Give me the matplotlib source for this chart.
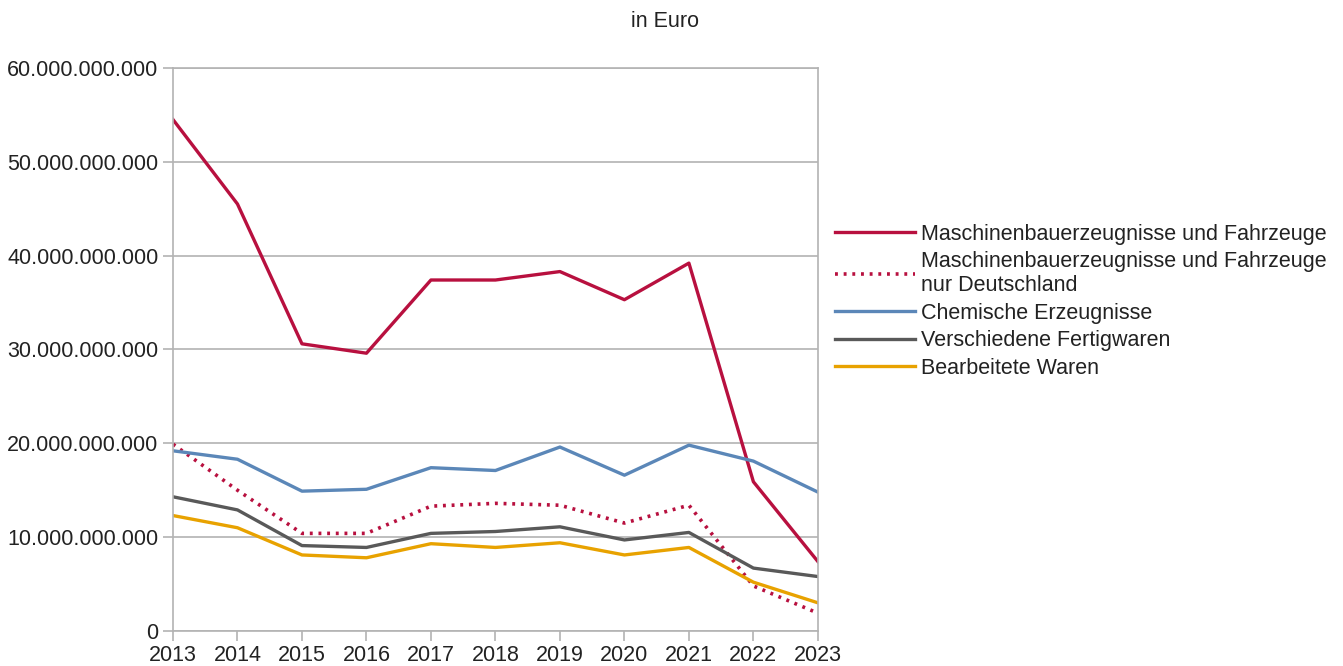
import numpy as np
import matplotlib.pyplot as plt
from matplotlib.ticker import FuncFormatter

plt.rcParams['font.family'] = ['Liberation Sans', 'DejaVu Sans']

years = [2013, 2014, 2015, 2016, 2017, 2018, 2019, 2020, 2021, 2022, 2023]

# values in billion euro
maschinen = [54.5, 45.5, 30.6, 29.6, 37.4, 37.4, 38.3, 35.3, 39.2, 15.9, 7.4]
maschinen_de = [19.9, 15.0, 10.4, 10.4, 13.3, 13.6, 13.4, 11.5, 13.4, 4.8, 1.9]
chemie = [19.2, 18.3, 14.9, 15.1, 17.4, 17.1, 19.6, 16.6, 19.8, 18.1, 14.8]
fertigwaren = [14.3, 12.9, 9.1, 8.9, 10.4, 10.6, 11.1, 9.7, 10.5, 6.7, 5.8]
bearbeitet = [12.3, 11.0, 8.1, 7.8, 9.3, 8.9, 9.4, 8.1, 8.9, 5.2, 3.0]

labels = ["Maschinenbauerzeugnisse und Fahrzeuge",
          "Maschinenbauerzeugnisse und Fahrzeuge\nnur Deutschland",
          "Chemische Erzeugnisse",
          "Verschiedene Fertigwaren",
          "Bearbeitete Waren"]

fs = 15.5

fig = plt.figure(figsize=(13.43, 6.66), dpi=100)
ax = fig.add_axes([0.1288, 0.0526, 0.4802, 0.8454])

b = 1e9
ax.plot(years, np.array(maschinen) * b, color='#b8103f', lw=2.4, label=labels[0])
ax.plot(years, np.array(maschinen_de) * b, color='#b8103f', lw=2.6, ls=(0, (0.8, 1.6)), label=labels[1])
ax.plot(years, np.array(chemie) * b, color='#5b87b8', lw=2.4, label=labels[2])
ax.plot(years, np.array(fertigwaren) * b, color='#595959', lw=2.4, label=labels[3])
ax.plot(years, np.array(bearbeitet) * b, color='#e8a200', lw=2.4, label=labels[4])

ax.set_xlim(2013, 2023)
ax.set_ylim(0, 60e9)
ax.set_xticks(years)
ax.set_yticks(np.arange(0, 61e9, 10e9))
ax.yaxis.set_major_formatter(FuncFormatter(lambda v, p: f"{int(round(v)):,}".replace(",", ".")))
ax.tick_params(labelsize=fs, length=7, width=1.2, colors='#222222')
ax.tick_params(axis='both', which='major', color='#b3b3b3')
ax.tick_params(axis='x', pad=3)
ax.grid(axis='y', color='#b3b3b3', lw=1.2)
for s in ax.spines.values():
    s.set_color('#b3b3b3')
    s.set_linewidth(1.2)

fig.text(0.495, 0.968, "in Euro", ha='center', va='center', fontsize=fs, color='#222222')

fig.legend(loc='upper left', bbox_to_anchor=(0.6155, 0.677), frameon=False,
           fontsize=fs, handlelength=3.7, handletextpad=0.3, labelspacing=0.3,
           borderaxespad=0, labelcolor='#222222')

fig.savefig('out.png', dpi=100)
